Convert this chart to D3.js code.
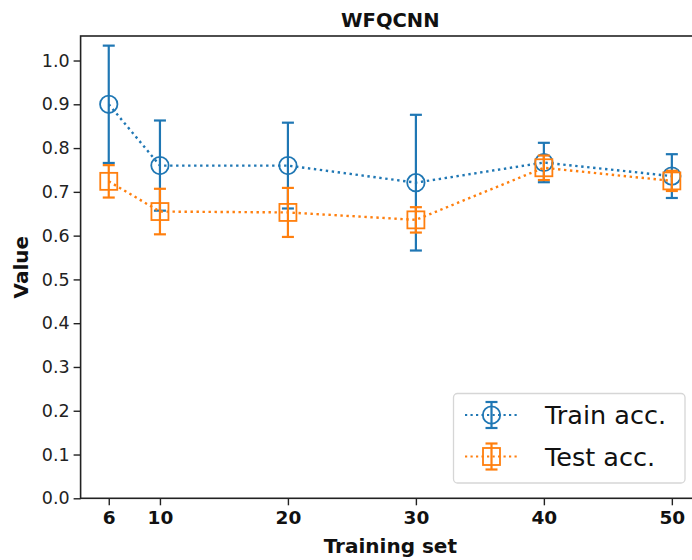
<!DOCTYPE html>
<html>
<head>
<meta charset="utf-8">
<script src="https://cdn.jsdelivr.net/npm/d3@7"></script>
<style>
  html, body { margin: 0; padding: 0; background: #fff; }
  svg { display: block; font-family: "DejaVu Sans", sans-serif; }
</style>
</head>
<body>
<div id="chart"></div>
<script>
(function(){
    const sizes = [6, 10, 20, 30, 40, 50];
    const trainMean = [0.900, 0.760, 0.760, 0.721, 0.767, 0.736];
    const trainErr = [0.134, 0.103, 0.098, 0.155, 0.045, 0.050];
    const testMean = [0.724, 0.655, 0.653, 0.636, 0.755, 0.725];
    const testErr = [0.037, 0.052, 0.056, 0.029, 0.028, 0.023];
    const yTicks = [0, 0.1, 0.2, 0.3, 0.4, 0.5, 0.6, 0.7, 0.8, 0.9, 1.0];
    const xTicks = [6, 10, 20, 30, 40, 50];
    const seriesNames = ['Train acc.', 'Test acc.'];

    const W = 692, H = 560;
    const blue = '#1f77b4', orange = '#ff7f0e';

    const svg = d3.select('#chart').append('svg')
        .attr('width', W).attr('height', H);
    svg.append('rect').attr('width', W).attr('height', H).attr('fill', '#fff');

    const x = d3.scaleLinear().domain([3.8, 52.2]).range([80.6, 700]);
    const y = d3.scaleLinear().domain([0, 1.056]).range([498.3, 36]);

    // frame (right spine falls outside the picture)
    svg.append('rect')
        .attr('x', x.range()[0]).attr('y', y.range()[1])
        .attr('width', x.range()[1] - x.range()[0])
        .attr('height', y.range()[0] - y.range()[1])
        .attr('fill', 'none').attr('stroke', '#222').attr('stroke-width', 1.6);

    const yAxis = svg.append('g')
        .attr('transform', `translate(${x.range()[0]},0)`)
        .call(d3.axisLeft(y).tickValues(yTicks).tickSize(7).tickPadding(4).tickFormat(d3.format('.1f')));
    yAxis.select('.domain').remove();
    yAxis.selectAll('line').attr('stroke', '#222').attr('stroke-width', 1.4);
    yAxis.selectAll('text').attr('font-size', 17.5).attr('fill', '#222')
        .attr('font-family', '"DejaVu Sans", sans-serif');

    const xAxis = svg.append('g')
        .attr('transform', `translate(0,${y.range()[0]})`)
        .call(d3.axisBottom(x).tickValues(xTicks).tickSize(7).tickPadding(6));
    xAxis.select('.domain').remove();
    xAxis.selectAll('line').attr('stroke', '#222').attr('stroke-width', 1.4);
    xAxis.selectAll('text').attr('font-size', 18.5).attr('font-weight', 'bold').attr('fill', '#111')
        .attr('font-family', '"DejaVu Sans", sans-serif');

    svg.append('text')
        .attr('x', (x.range()[0] + x.range()[1]) / 2).attr('y', 27)
        .attr('text-anchor', 'middle').attr('font-size', 19.5).attr('font-weight', 'bold')
        .attr('fill', '#111').text('WFQCNN');

    svg.append('text')
        .attr('x', (x.range()[0] + x.range()[1]) / 2).attr('y', 553)
        .attr('text-anchor', 'middle').attr('font-size', 20).attr('font-weight', 'bold')
        .attr('fill', '#111').text('Training set');

    svg.append('text')
        .attr('transform', `translate(28,${(y.range()[0] + y.range()[1]) / 2}) rotate(-90)`)
        .attr('text-anchor', 'middle').attr('font-size', 20).attr('font-weight', 'bold')
        .attr('fill', '#111').text('Value');

    const cap = 6;
    function drawSeries(means, errs, color, marker) {
        const data = sizes.map((s, i) => ({s, m: means[i], e: errs[i]}));
        const g = svg.append('g');
        const line = d3.line().x(d => x(d.s)).y(d => y(d.m));
        g.append('path').datum(data)
            .attr('fill', 'none').attr('stroke', color).attr('stroke-width', 2.4)
            .attr('stroke-dasharray', '2.4,3.6').attr('d', line);
        const eb = g.selectAll('g.eb').data(data).enter().append('g').attr('class', 'eb');
        eb.append('line')
            .attr('x1', d => x(d.s)).attr('x2', d => x(d.s))
            .attr('y1', d => y(d.m + d.e)).attr('y2', d => y(d.m - d.e))
            .attr('stroke', color).attr('stroke-width', 2.2);
        [1, -1].forEach(sg => {
            eb.append('line')
                .attr('x1', d => x(d.s) - cap).attr('x2', d => x(d.s) + cap)
                .attr('y1', d => y(d.m + sg * d.e)).attr('y2', d => y(d.m + sg * d.e))
                .attr('stroke', color).attr('stroke-width', 2.2);
        });
        if (marker === 'circle') {
            eb.append('circle')
                .attr('cx', d => x(d.s)).attr('cy', d => y(d.m)).attr('r', 8.7)
                .attr('fill', 'none').attr('stroke', color).attr('stroke-width', 1.8);
        } else {
            eb.append('rect')
                .attr('x', d => x(d.s) - 8.5).attr('y', d => y(d.m) - 8.5)
                .attr('width', 17).attr('height', 17)
                .attr('fill', 'none').attr('stroke', color).attr('stroke-width', 1.8);
        }
    }
    drawSeries(trainMean, trainErr, blue, 'circle');
    drawSeries(testMean, testErr, orange, 'square');

    // legend
    const lg = svg.append('g');
    lg.append('rect')
        .attr('x', 453.5).attr('y', 393.5).attr('width', 231.5).attr('height', 89.5)
        .attr('rx', 4).attr('fill', '#fff').attr('fill-opacity', 0.8)
        .attr('stroke', '#d6d6d6').attr('stroke-width', 1.3);
    const rows = [
        {name: seriesNames[0], color: blue, marker: 'circle', cy: 415},
        {name: seriesNames[1], color: orange, marker: 'square', cy: 456.5}
    ];
    rows.forEach(r => {
        const cx = 491.5;
        lg.append('line').attr('x1', 465).attr('x2', 519).attr('y1', r.cy).attr('y2', r.cy)
            .attr('stroke', r.color).attr('stroke-width', 2.2).attr('stroke-dasharray', '2.2,3.3');
        lg.append('line').attr('x1', cx).attr('x2', cx).attr('y1', r.cy - 13).attr('y2', r.cy + 13)
            .attr('stroke', r.color).attr('stroke-width', 2.2);
        [-13, 13].forEach(o => lg.append('line')
            .attr('x1', cx - cap).attr('x2', cx + cap).attr('y1', r.cy + o).attr('y2', r.cy + o)
            .attr('stroke', r.color).attr('stroke-width', 2.2));
        if (r.marker === 'circle') {
            lg.append('circle').attr('cx', cx).attr('cy', r.cy).attr('r', 8.7)
                .attr('fill', 'none').attr('stroke', r.color).attr('stroke-width', 1.8);
        } else {
            lg.append('rect').attr('x', cx - 8.5).attr('y', r.cy - 8.5).attr('width', 17).attr('height', 17)
                .attr('fill', 'none').attr('stroke', r.color).attr('stroke-width', 1.8);
        }
        lg.append('text').attr('x', 545).attr('y', r.cy + 9.3)
            .attr('font-size', 25.5).attr('fill', '#111').text(r.name);
    });
})();
</script>
</body>
</html>
